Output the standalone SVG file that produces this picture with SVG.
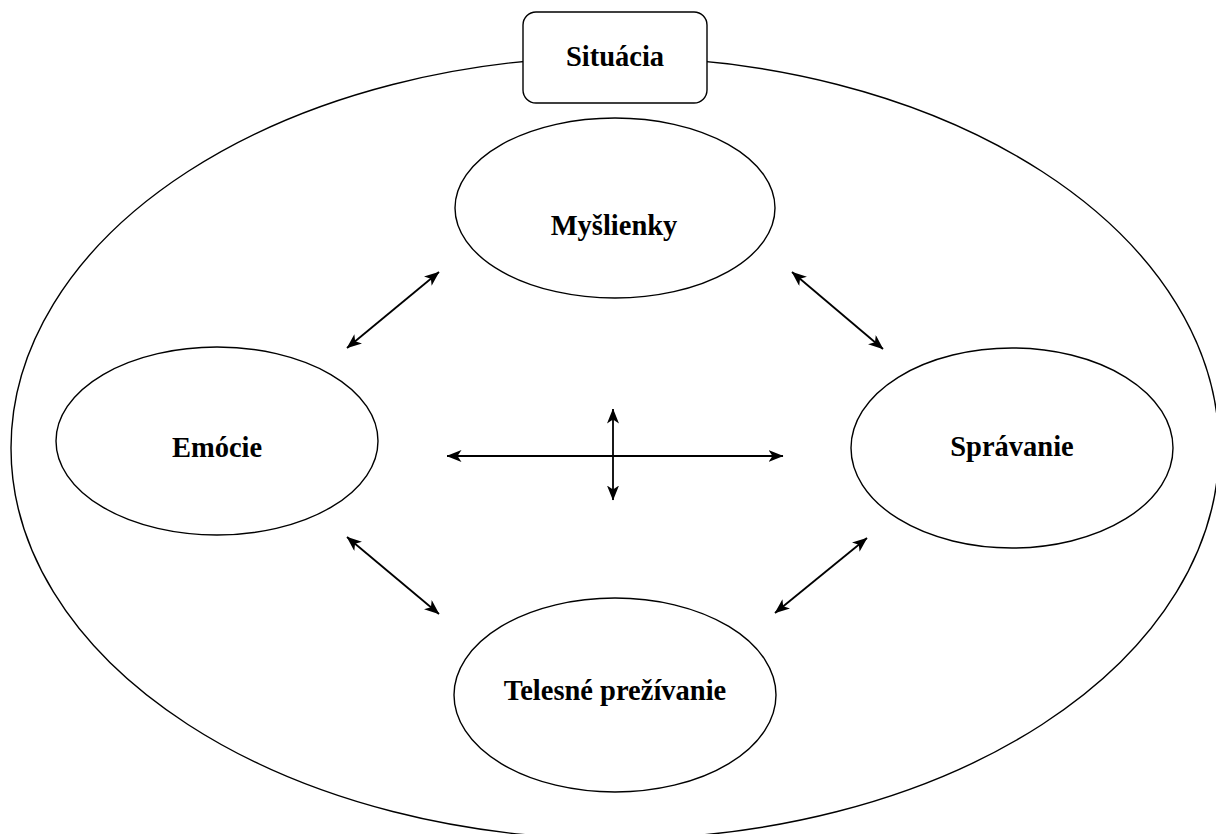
<svg xmlns="http://www.w3.org/2000/svg" width="1216" height="834" viewBox="0 0 1216 834">
<style>
.shape{fill:#fff;stroke:#000;stroke-width:1.4}
.lbl{font-family:"Liberation Serif","Times New Roman",serif;font-weight:bold;font-size:28.5px;fill:#000;text-anchor:middle}
.con{stroke:#000;stroke-width:1.8;fill:none;marker-start:url(#ah);marker-end:url(#ah)}
</style>
<defs>
<marker id="ah" viewBox="0 0 15 12" refX="14.5" refY="6" markerWidth="15" markerHeight="12" markerUnits="userSpaceOnUse" orient="auto-start-reverse">
<path d="M0,0 L15,6 L0,12 L4,6 Z" fill="#000"/>
</marker>
</defs>
<rect width="1216" height="834" fill="#fff"/>
<g id="outer"><ellipse class="shape" cx="615" cy="448" rx="604" ry="391"/></g>
<g id="situacia"><rect class="shape" x="523" y="12" width="184" height="91" rx="13" ry="13"/><text class="lbl" x="615" y="66">Situácia</text></g>
<g id="myslienky"><ellipse class="shape" cx="615" cy="208" rx="160" ry="90"/><text class="lbl" x="614" y="235">Myšlienky</text></g>
<g id="emocie"><ellipse class="shape" cx="217" cy="441" rx="161" ry="94"/><text class="lbl" x="217" y="457">Emócie</text></g>
<g id="spravanie"><ellipse class="shape" cx="1012" cy="448" rx="161" ry="100"/><text class="lbl" x="1012" y="456">Správanie</text></g>
<g id="telesne"><ellipse class="shape" cx="615" cy="695" rx="161" ry="97"/><text class="lbl" x="615" y="700">Telesné prežívanie</text></g>
<g id="connectors">
<line class="con" x1="347" y1="348" x2="439" y2="272"/>
<line class="con" x1="792" y1="272" x2="883" y2="349"/>
<line class="con" x1="347" y1="537" x2="439" y2="614"/>
<line class="con" x1="775" y1="613" x2="867" y2="538"/>
<line class="con" x1="447" y1="456" x2="783" y2="456"/>
<line class="con" x1="613" y1="409" x2="613" y2="500"/>
</g>
</svg>
